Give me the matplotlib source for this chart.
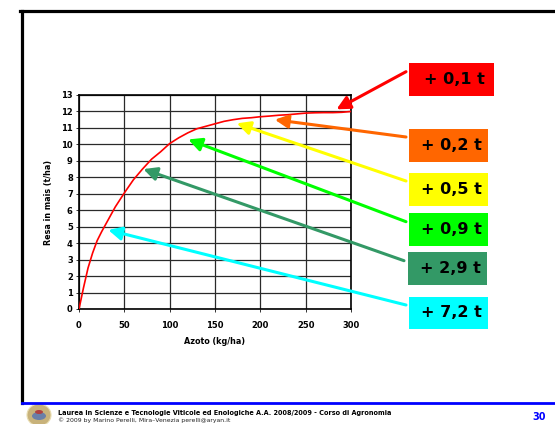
import matplotlib
matplotlib.use("Agg")
import matplotlib.pyplot as plt
from matplotlib.patches import Rectangle, Ellipse
from matplotlib.lines import Line2D

# ---- data ----
azoto = [0, 5, 10, 15, 20, 25, 30, 35, 40, 50, 60, 70, 80, 90, 100, 110, 120, 130, 140, 150,
         160, 170, 180, 190, 200, 210, 220, 230, 240, 250, 260, 270, 280, 290, 300]
resa = [0, 1.3, 2.5, 3.4, 4.15, 4.7, 5.2, 5.7, 6.2, 7.05, 7.85, 8.5, 9.1, 9.55, 10.05, 10.4,
        10.7, 10.95, 11.1, 11.25, 11.4, 11.5, 11.58, 11.62, 11.68, 11.72, 11.77, 11.8, 11.85,
        11.9, 11.92, 11.93, 11.93, 11.95, 12.0]

labels = ["+ 0,1 t", "+ 0,2 t", "+ 0,5 t", "+ 0,9 t", "+ 2,9 t", "+ 7,2 t"]
label_colors = ["#FF0000", "#FF6600", "#FFFF00", "#00FF00", "#339966", "#00FFFF"]
tip_x = [284, 216, 174, 120.5, 71, 32.3]
tip_y = [12.13, 11.5, 11.28, 10.3, 8.5, 4.8]

xticks = [0, 50, 100, 150, 200, 250, 300]
yticks = list(range(0, 14))

W, H = 555, 424
fig = plt.figure(figsize=(W / 100, H / 100), dpi=100)
fig.patch.set_facecolor("white")

def fx(px):
    return px / W

def fy(py):
    return 1 - py / H

ax = fig.add_axes([fx(79), fy(309), 272 / W, 214 / H])
ax.plot(azoto, resa, color="#FF0000", lw=1.2, zorder=3)
ax.set_xlim(0, 300)
ax.set_ylim(0, 13)
ax.set_xticks(xticks)
ax.set_yticks(yticks)
ax.tick_params(axis="both", labelsize=6, length=2.5, width=0.7, pad=2, color="#333333")
for lab in ax.get_xticklabels() + ax.get_yticklabels():
    lab.set_fontweight("bold")
ax.xaxis.set_tick_params(pad=6)
ax.grid(True, color="#2a2a2a", lw=0.9)
ax.set_axisbelow(True)
for sp in ax.spines.values():
    sp.set_linewidth(1.2)
    sp.set_color("black")
ax.set_xlabel("Azoto (kg/ha)", fontsize=5.8, fontweight="bold", labelpad=5)
ax.set_ylabel("Resa in mais (t/ha)", fontsize=5.8, fontweight="bold", labelpad=6)

# label boxes
box_tops = [63.3, 129.3, 173.3, 213.3, 252.3, 296.7]
box_lefts = [409, 409, 409, 409, 407.7, 409]
box_widths = [85, 79, 79, 79, 79, 79]
bh = 32.5
tails = [(406, 71.7), (406, 137), (406, 181), (406, 221.7), (404, 260.7), (406, 305)]
for i, lab in enumerate(labels):
    l, t, w = box_lefts[i], box_tops[i], box_widths[i]
    fig.patches.append(Rectangle((fx(l), fy(t + bh)), w / W, bh / H,
                                 transform=fig.transFigure, facecolor=label_colors[i],
                                 edgecolor="none", zorder=5))
    fig.text(fx(l + w / 2 + 3), fy(t + bh / 2), lab, ha="center", va="center",
             fontsize=11.5, fontweight="bold", color="black", zorder=6)
    tx, ty = tails[i]
    ax.annotate("", xy=(tip_x[i], tip_y[i]), xycoords="data",
                xytext=(tx, H - ty), textcoords="figure pixels",
                arrowprops=dict(arrowstyle="-|>,head_length=1.0,head_width=0.5",
                                color=label_colors[i], lw=2.2, shrinkA=0, shrinkB=0,
                                mutation_scale=8),
                annotation_clip=False, zorder=4)

# slide frame
fig.lines.append(Line2D([fx(21.5), fx(21.5)], [fy(10.5), fy(403)],
                        transform=fig.transFigure, color="black", lw=2.3))
fig.lines.append(Line2D([fx(20.4), 1], [fy(10.5), fy(10.5)],
                        transform=fig.transFigure, color="black", lw=2.3))
fig.lines.append(Line2D([fx(22), 1], [fy(403), fy(403)],
                        transform=fig.transFigure, color="#0000FF", lw=2.0))

# logo
fig.patches.append(Ellipse((fx(39), fy(415)), 24 / W, 22 / H, transform=fig.transFigure,
                           facecolor="#c8b27a", edgecolor="#e8dcb0", lw=0.8))
fig.patches.append(Ellipse((fx(39), fy(416)), 14 / W, 8 / H, transform=fig.transFigure,
                           facecolor="#6a7fa8", edgecolor="none"))
fig.patches.append(Ellipse((fx(39), fy(412)), 8 / W, 4 / H, transform=fig.transFigure,
                           facecolor="#b04040", edgecolor="none"))

fig.text(fx(58), fy(412.7),
         "Laurea in Scienze e Tecnologie Viticole ed Enologiche A.A. 2008/2009 - Corso di Agronomia",
         ha="left", va="center", fontsize=4.7, fontweight="bold", color="black")
fig.text(fx(58), fy(420.5), "\u00a9 2009 by Marino Perelli, Mira\u2013Venezia perelli@aryan.it",
         ha="left", va="center", fontsize=4.4, color="#222222")
fig.text(fx(539), fy(416.5), "30", ha="center", va="center", fontsize=7,
         fontweight="bold", color="#0000FF")

fig.savefig("out.png", dpi=100)
